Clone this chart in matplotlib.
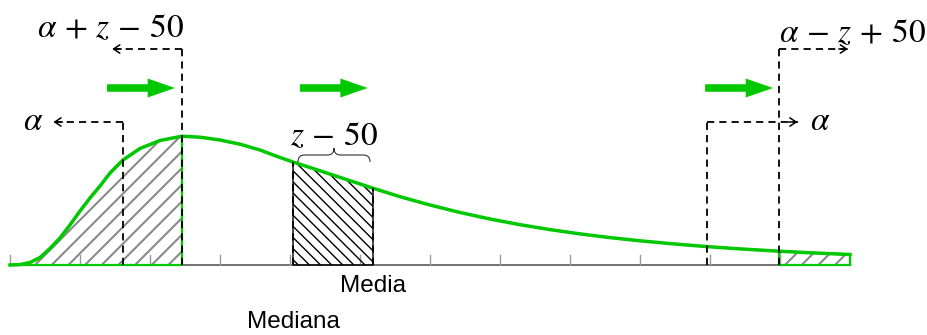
import matplotlib
matplotlib.use("Agg")
import matplotlib.pyplot as plt
from matplotlib.patches import FancyArrow, PathPatch
from matplotlib.path import Path
import numpy as np

plt.rcParams["mathtext.fontset"] = "stix"
plt.rcParams["hatch.linewidth"] = 1.0

# Density curve samples (x in axis units, y = density height)
curve_x = [0.000, 0.143, 0.286, 0.429, 0.571, 0.714, 0.857, 1.000, 1.143, 1.286,
           1.429, 1.614, 1.857, 2.143, 2.457, 2.714, 3.000, 3.286, 3.571, 3.857,
           4.043, 4.429, 4.814, 5.186, 5.571, 6.000, 6.429, 6.857, 7.286, 7.714,
           8.143, 8.571, 9.000, 9.429, 9.957, 10.429, 10.986, 11.500, 12.000]
curve_y = [0.000, 0.004, 0.025, 0.075, 0.165, 0.270, 0.400, 0.540, 0.670, 0.790,
           0.920, 1.050, 1.165, 1.245, 1.288, 1.278, 1.250, 1.208, 1.150, 1.075,
           1.030, 0.942, 0.853, 0.768, 0.683, 0.600, 0.525, 0.460, 0.403, 0.354,
           0.311, 0.274, 0.242, 0.214, 0.184, 0.161, 0.138, 0.120, 0.105]

# Tick positions along the axis
tick_x = list(range(0, 13))

# Key positions
alpha_left = 1.614
left_cut = 2.457
median_x = 4.043
mean_x = 5.186
alpha_right = 9.957
right_cut = 10.986
x_end = 12.0

# Heights of dashed guides
guide_low = 1.43
guide_high = 2.16

GREEN = "#00c800"

cx = np.array(curve_x)
cy = np.array(curve_y)

fig = plt.figure(figsize=(9.28, 3.35), dpi=100)
ax = fig.add_axes([0, 0, 1, 1])
ax.set_xlim(-10 / 70, 918 / 70)
ax.set_ylim(-0.70, 2.65)
ax.axis("off")

# Axis line and ticks
ax.plot([0, x_end], [0, 0], color="#5a5a5a", lw=1.2, zorder=1)
for t in tick_x:
    ax.plot([t, t], [0, 0.10], color="#9a9a9a", lw=1.0, zorder=1)

# Hatched tails
with plt.rc_context({"hatch.linewidth": 1.5}):
    m_left = cx <= left_cut
    ax.fill_between(cx[m_left], 0, cy[m_left], facecolor="none", edgecolor="#8a8a8a",
                    hatch="//", lw=0, zorder=2)
    m_right = cx >= right_cut
    ax.fill_between(cx[m_right], 0, cy[m_right], facecolor="none", edgecolor="#8a8a8a",
                    hatch="//", lw=0, zorder=2)
ax.fill_between(cx[m_left], 0, cy[m_left], facecolor="none", edgecolor=GREEN,
                lw=1.6, zorder=3)
ax.fill_between(cx[m_right], 0, cy[m_right], facecolor="none", edgecolor=GREEN,
                lw=1.6, zorder=3)

# Hatched band between median and mean
m_mid = (cx >= median_x) & (cx <= mean_x)
ax.fill_between(cx[m_mid], 0, cy[m_mid], facecolor="none", edgecolor="black",
                hatch="\\\\\\", lw=1.0, zorder=2)

# Density curve
ax.plot(cx, cy, color=GREEN, lw=2.5, zorder=4, solid_joinstyle="round")

dash = dict(color="black", lw=1.3, dashes=(4.0, 2.8), zorder=5)


def y_at(x):
    return cy[np.argmin(np.abs(cx - x))]


# Dashed guides on the left
ax.plot([alpha_left, alpha_left], [0, guide_low], **dash)
ax.plot([alpha_left, 0.62], [guide_low, guide_low], **dash)
ax.plot([left_cut, left_cut], [0, guide_high], **dash)
ax.plot([left_cut, 1.46], [guide_high, guide_high], **dash)

# Dashed guides on the right
ax.plot([alpha_right, alpha_right], [0, guide_low], **dash)
ax.plot([alpha_right, 11.25], [guide_low, guide_low], **dash)
ax.plot([right_cut, right_cut], [0, guide_high], **dash)
ax.plot([right_cut, 11.97], [guide_high, guide_high], **dash)

# Dashed edges of the middle band
ax.plot([median_x, median_x], [0, y_at(median_x)], **dash)
ax.plot([mean_x, mean_x], [0, y_at(mean_x)], **dash)

# Small open arrow heads at the guide ends
head = dict(arrowstyle="->,head_length=0.45,head_width=0.3", color="black",
            lw=1.1, shrinkA=0, shrinkB=0, mutation_scale=10)
for tip, base, yy in [(0.62, 0.75, guide_low), (1.46, 1.59, guide_high),
                      (11.25, 11.12, guide_low), (11.97, 11.84, guide_high)]:
    ax.annotate("", xy=(tip, yy), xytext=(base, yy), arrowprops=head, zorder=6)

# Thick green arrows showing the shift
arrow_y = 1.77
for x0, x1 in [(1.386, 2.357), (4.14, 5.11), (9.93, 10.9)]:
    ax.add_patch(FancyArrow(x0, arrow_y, x1 - x0, 0, width=0.075, head_width=0.19,
                            head_length=0.39, length_includes_head=True,
                            color=GREEN, lw=0, zorder=6))

# Curly brace above the middle band
bx0, bx1 = 4.114, 5.143
yb, ym, yt = 1.03, 1.10, 1.17
bm = (bx0 + bx1) / 2
d = 0.09
verts = [(bx0, yb), (bx0, ym), (bx0 + d, ym),
         (bm - d, ym), (bm, ym), (bm, yt),
         (bm, ym), (bm + d, ym),
         (bx1 - d, ym), (bx1, ym), (bx1, yb)]
codes = [Path.MOVETO, Path.CURVE3, Path.CURVE3,
         Path.LINETO, Path.CURVE3, Path.CURVE3,
         Path.CURVE3, Path.CURVE3,
         Path.LINETO, Path.CURVE3, Path.CURVE3]
ax.add_patch(PathPatch(Path(verts, codes), facecolor="none", edgecolor="#333333",
                       lw=0.8, zorder=6))

# Labels
mfs = 24
ax.text(1.443, 2.28, r"$\alpha\,+\,z\,-\,50$", fontsize=mfs, ha="center", va="baseline")
ax.text(12.03, 2.23, r"$\alpha\,-\,z\,+\,50$", fontsize=mfs, ha="center", va="baseline")
ax.text(4.63, 1.20, r"$z\,-\,50$", fontsize=mfs, ha="center", va="baseline")
ax.text(0.33, 1.35, r"$\alpha$", fontsize=mfs, ha="center", va="baseline")
ax.text(11.57, 1.35, r"$\alpha$", fontsize=mfs, ha="center", va="baseline")

sfs = 17.5
ax.text(mean_x, -0.21, "Media", fontsize=sfs, family="Liberation Sans",
        ha="center", va="center")
ax.text(median_x, -0.57, "Mediana", fontsize=sfs, family="Liberation Sans",
        ha="center", va="center")

fig.savefig("out.png", dpi=100)
